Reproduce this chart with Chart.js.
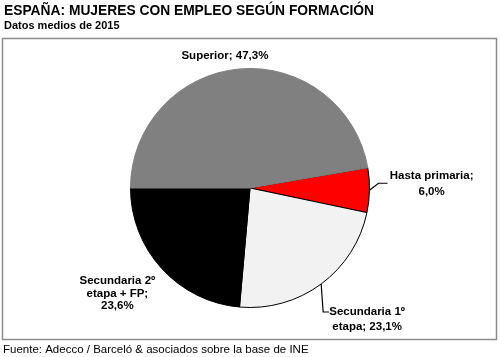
<!DOCTYPE html>
<html><head><meta charset="utf-8">
<script src="https://cdn.jsdelivr.net/npm/chart.js@4.4.1/dist/chart.umd.min.js"></script>
<style>html,body{margin:0;padding:0;background:#fff}#wrap{width:500px;height:357px;position:relative}</style>
</head><body><div id="wrap"><canvas id="c" width="500" height="357"></canvas></div>
<script>
const categories = ['Hasta primaria', 'Secundaria 1º etapa', 'Secundaria 2º etapa + FP', 'Superior'];
const values = [6.0, 23.1, 23.6, 47.3];
const labelLines = [['Hasta primaria;', '6,0%'], ['Secundaria 1º', 'etapa; 23,1%'], ['Secundaria 2º', 'etapa + FP;', '23,6%'], ['Superior; 47,3%']];
const colors = ['#ff0000', '#f2f2f2', '#000000', '#808080'];
const borders = ['#000000', '#000000', '#000000', '#808080'];
const titleText = 'ESPAÑA: MUJERES CON EMPLEO SEGÚN FORMACIÓN';
const subtitleText = 'Datos medios de 2015';
const sourceText = 'Fuente: Adecco / Barceló & asociados sobre la base de INE';

const total = values.reduce((a, b) => a + b, 0);
const rotation = 180 + 360 * values[3] / total + 90; // Superior starts at 9 o'clock

const FONT = 'Arial, "Liberation Sans", sans-serif';

const decor = {
  id: 'decor',
  beforeDraw(chart) {
    const ctx = chart.ctx;
    ctx.save();
    ctx.fillStyle = '#fff';
    ctx.fillRect(0, 0, chart.width, chart.height);
    ctx.strokeStyle = '#8c8c8c';
    ctx.lineWidth = 1.5;
    ctx.strokeRect(2.5, 38.5, 494, 301);
    ctx.fillStyle = '#000';
    ctx.textBaseline = 'middle';
    ctx.textAlign = 'left';
    ctx.font = 'bold 13.8px ' + FONT;
    ctx.fillText(titleText, 4, 11);
    ctx.font = 'bold 11px ' + FONT;
    ctx.fillText(subtitleText, 4, 26);
    ctx.font = '11.5px ' + FONT;
    ctx.fillText(sourceText, 3, 350);
    ctx.restore();
  },
  afterDraw(chart) {
    const ctx = chart.ctx;
    const arcs = chart.getDatasetMeta(0).data;
    const a0 = arcs[0];
    const cx = a0.x, cy = a0.y, R = a0.outerRadius;
    const mid = i => (arcs[i].startAngle + arcs[i].endAngle) / 2;
    const edge = i => [cx + R * Math.cos(mid(i)), cy + R * Math.sin(mid(i))];
    ctx.save();
    ctx.strokeStyle = '#000';
    ctx.lineWidth = 1.2;
    let p = edge(0);
    ctx.beginPath();
    ctx.moveTo(p[0], p[1]);
    ctx.lineTo(p[0] + 9, p[1] - 7);
    ctx.lineTo(p[0] + 18, p[1] - 7);
    ctx.stroke();
    p = edge(1);
    ctx.beginPath();
    ctx.moveTo(p[0], p[1]);
    ctx.lineTo(p[0] + 2, p[1] + 28);
    ctx.lineTo(p[0] + 8, p[1] + 28);
    ctx.stroke();

    ctx.fillStyle = '#000';
    ctx.font = 'bold 11.5px ' + FONT;
    ctx.textAlign = 'center';
    ctx.textBaseline = 'middle';
    const pos = [
      [cx + 1.52 * R, cy - 0.10 * R, 15.5],
      [cx + 0.98 * R, cy + 1.04 * R, 15],
      [cx - 1.11 * R, cy + 0.78 * R, 12.5],
      [cx - 0.21 * R, cy - 1.11 * R, 13]
    ];
    labelLines.forEach((lines, i) => {
      const [x, y, lh] = pos[i];
      lines.forEach((t, j) => ctx.fillText(t, x, y + j * lh));
    });
    ctx.restore();
  }
};

new Chart(document.getElementById('c'), {
  type: 'pie',
  data: {
    labels: categories,
    datasets: [{
      data: values,
      backgroundColor: colors,
      borderColor: borders,
      borderWidth: 1
    }]
  },
  options: {
    responsive: false,
    animation: false,
    rotation: rotation,
    layout: { padding: { top: 68, bottom: 49, left: 130, right: 130 } },
    plugins: { legend: { display: false }, tooltip: { enabled: false } }
  },
  plugins: [decor]
});
</script>
</body></html>
